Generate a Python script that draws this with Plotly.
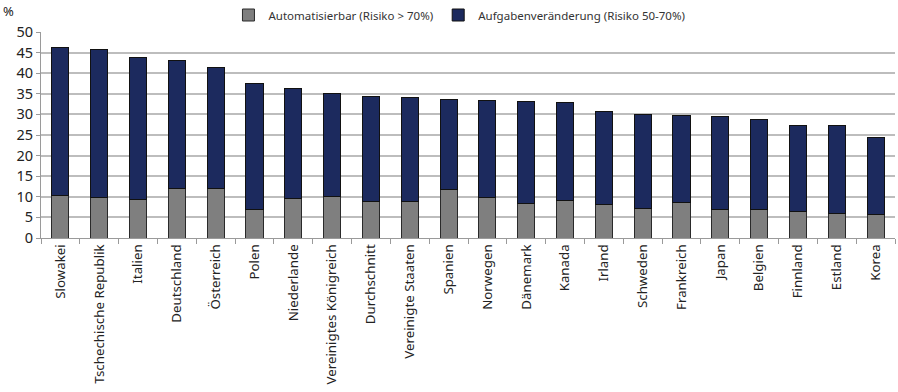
import plotly.graph_objects as go

countries = ["Slowakei", "Tschechische Republik", "Italien", "Deutschland", "Österreich",
             "Polen", "Niederlande", "Vereinigtes Königreich", "Durchschnitt", "Vereinigte Staaten",
             "Spanien", "Norwegen", "Dänemark", "Kanada", "Irland", "Schweden", "Frankreich",
             "Japan", "Belgien", "Finnland", "Estland", "Korea"]
automatisierbar = [10.4, 9.9, 9.4, 12.0, 12.0, 6.9, 9.5, 10.0, 8.8, 8.8,
                   11.8, 9.8, 8.4, 9.2, 8.1, 7.2, 8.6, 7.0, 7.0, 6.4, 6.0, 5.8]
totals = [46.3, 45.8, 43.9, 43.2, 41.5, 37.4, 36.4, 35.0, 34.4, 34.0,
          33.6, 33.3, 33.1, 32.8, 30.8, 30.0, 29.8, 29.5, 28.8, 27.4, 27.4, 24.3]
veraenderung = [round(t - a, 1) for t, a in zip(totals, automatisierbar)]
yticks = list(range(0, 51, 5))

font = "Noto Sans"

fig = go.Figure()
fig.add_trace(go.Bar(
    x=countries, y=automatisierbar, name="Automatisierbar (Risiko > 70%)",
    marker=dict(color="#7f7f7f", line=dict(color="#2a2a2a", width=1)),
))
fig.add_trace(go.Bar(
    x=countries, y=veraenderung, name="Aufgabenveränderung (Risiko 50-70%)",
    marker=dict(color="#1c2a5e", line=dict(color="#111111", width=1)),
))

fig.update_layout(
    barmode="stack",
    bargap=0.56,
    width=898, height=392,
    margin=dict(l=41, r=3, t=32, b=154),
    paper_bgcolor="white", plot_bgcolor="white",
    font=dict(family=font, color="#222222"),
    showlegend=True,
    legend=dict(orientation="h", xref="paper", x=0.49, xanchor="center",
                yref="container", y=1 - 15 / 392, yanchor="middle",
                font=dict(size=11.5, family=font, color="#333333"),
                itemwidth=30, traceorder="normal", bgcolor="rgba(0,0,0,0)"),
    xaxis=dict(
        tickangle=-90, tickfont=dict(size=13.3, family=font, color="#222222"),
        showline=True, linecolor="#9a9a9a", linewidth=1,
        ticks="outside", tickson="boundaries", ticklen=5, tickcolor="#9a9a9a",
        showgrid=False, range=[-0.5, len(countries) - 0.5], automargin=False,
    ),
    yaxis=dict(
        range=[0, 50], tickvals=yticks, tickfont=dict(size=14.5, family=font, color="#222222"),
        showgrid=True, gridcolor="#bdbdbd", gridwidth=1.5,
        showline=True, linecolor="#9a9a9a", linewidth=1,
        ticks="outside", ticklen=4, tickcolor="#9a9a9a", zeroline=False,
        automargin=False,
    ),
    annotations=[dict(text="%", xref="paper", yref="paper", x=-0.047, y=1.10,
                      xanchor="left", yanchor="middle", showarrow=False,
                      font=dict(size=13, family=font, color="#222222"))],
)

fig.write_html("out.html")
